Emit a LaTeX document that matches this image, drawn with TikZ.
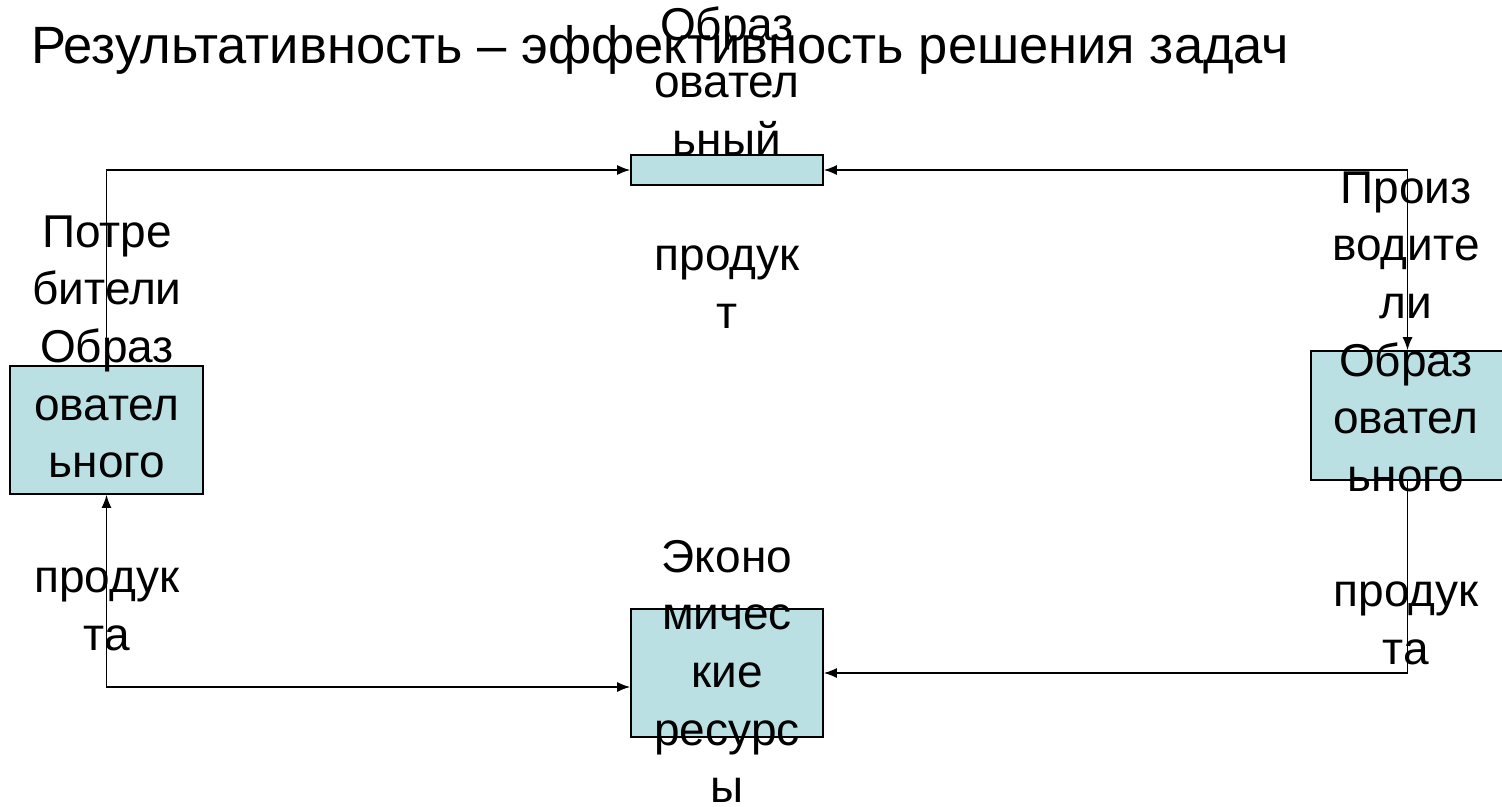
\documentclass[tikz,border=0pt]{standalone}
\usepackage{fontspec}
\setmainfont{Liberation Sans}
\usetikzlibrary{arrows.meta}
\definecolor{boxfill}{RGB}{187,224,227}
\tikzset{
  blk/.style={draw=black, line width=1.6pt, fill=boxfill, inner sep=0pt},
  conn/.style={draw=black, line width=1.5pt, >={Latex[length=13pt,width=10pt]}},
  lbl/.style={inner sep=0pt, anchor=north, align=center, font=\fontsize{46}{57.6}\selectfont},
  ttl/.style={inner sep=0pt, anchor=base west, font=\fontsize{52.5}{60}\selectfont}
}
\newcommand{\fstrut}{\rule{0pt}{40pt}}
\begin{document}
\begin{tikzpicture}[x=1pt,y=-1pt]
\useasboundingbox (0,0) rectangle (1502,806);
\fill[white] (0,0) rectangle (1502,806);
% boxes
\node[blk, minimum width=192pt, minimum height=30pt] (T) at (727,170) {};
\node[blk, minimum width=193pt, minimum height=128pt] (L) at (106.5,430) {};
\node[blk, minimum width=193pt, minimum height=129pt] (R) at (1407.5,415.5) {};
\node[blk, minimum width=192pt, minimum height=128pt] (B) at (727,673) {};
% connectors
\draw[conn,->] (L.north) |- (T.west);
\draw[conn,<->] (R.north) |- (T.east);
\draw[conn,<->] (L.south) |- ([yshift=-14pt]B.west);
\draw[conn,->] (R.south) |- (B.east);
% texts
\node[ttl] (title) at (31,63) {Результативность – эффективность решения задач};
\node[lbl] (tt) at (727,0) {\fstrut Образ\\овател\\ьный\\\mbox{}\\продук\\т};
\node[lbl] (lt) at (107,207) {\fstrut Потре\\бители\\Образ\\овател\\ьного\\\mbox{}\\продук\\та};
\node[lbl] (rt) at (1406,163) {\fstrut Произ\\водите\\ли\\Образ\\овател\\ьного\\\mbox{}\\продук\\та};
\node[lbl] (bt) at (727,532) {\fstrut Эконо\\мичес\\кие\\ресурс\\ы};
\end{tikzpicture}
\end{document}
